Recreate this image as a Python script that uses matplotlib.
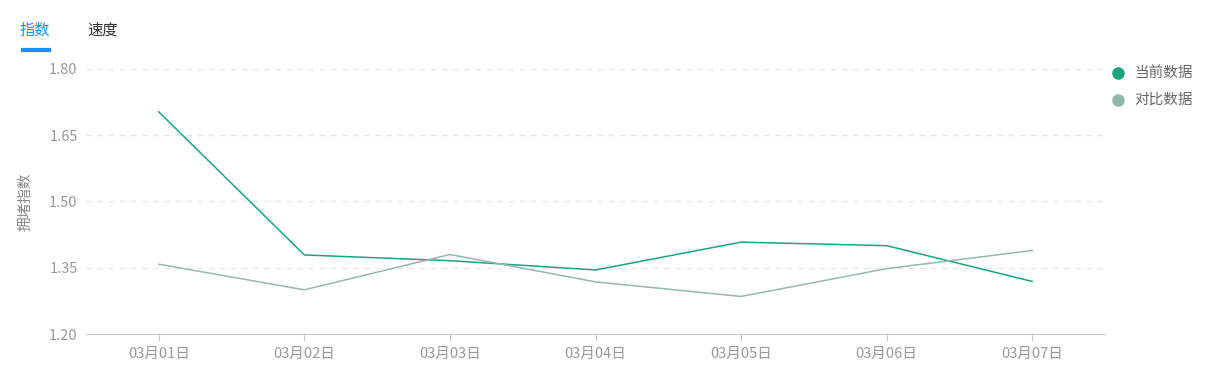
import matplotlib
matplotlib.use("Agg")
import matplotlib.pyplot as plt

plt.rcParams['font.family'] = ['Noto Sans CJK SC', 'DejaVu Sans']

# chart data
days = ['03月01日', '03月02日', '03月03日', '03月04日', '03月05日', '03月06日', '03月07日']
current = [1.703, 1.379, 1.366, 1.345, 1.408, 1.400, 1.319]
compare = [1.358, 1.300, 1.380, 1.318, 1.285, 1.348, 1.389]
y_ticks = [1.20, 1.35, 1.50, 1.65, 1.80]
tabs = ['指数', '速度']
series_names = ['当前数据', '对比数据']

c_cur = '#1ba27e'
c_cmp = '#94b8ac'

fig = plt.figure(figsize=(12.13, 3.81), dpi=100)
ax = fig.add_axes([86 / 1213, 47 / 381, 1019 / 1213, 265 / 381])

x = range(len(days))
ax.plot(x, current, color=c_cur, lw=1.1, label=series_names[0])
ax.plot(x, compare, color=c_cmp, lw=1.1, label=series_names[1])

ax.set_xlim(-0.5, len(days) - 0.5)
ax.set_ylim(1.20, 1.80)
ax.set_yticks(y_ticks)
ax.set_yticklabels(['%.2f' % v for v in y_ticks])
ax.set_xticks(list(x))
ax.set_xticklabels(days)

for v in y_ticks[1:]:
    ax.axhline(v, color='#e6e6e6', lw=1, ls=(0, (4, 4)), zorder=0)

for s in ['top', 'right', 'left']:
    ax.spines[s].set_visible(False)
ax.spines['bottom'].set_color('#c8c8c8')
ax.tick_params(axis='y', length=0, pad=6, labelsize=10.5, labelcolor='#999999')
ax.tick_params(axis='x', length=5, color='#c8c8c8', pad=4, labelsize=10.5, labelcolor='#999999')

ax.set_ylabel('拥堵指数', fontsize=10.5, color='#888888', labelpad=12)

# tabs on top
fig.text(20 / 1213, 1 - 30 / 381, tabs[0], fontsize=11, color='#1890ff', va='center', ha='left')
fig.text(87 / 1213, 1 - 30 / 381, tabs[1], fontsize=11, color='#333333', va='center', ha='left')
fig.add_artist(plt.Line2D([21 / 1213, 51 / 1213], [1 - 50 / 381, 1 - 50 / 381],
                          color='#1890ff', lw=3, solid_capstyle='butt',
                          transform=fig.transFigure))

# legend on right
for i, (name, c) in enumerate(zip(series_names, [c_cur, c_cmp])):
    yy = 1 - (73 + i * 27) / 381
    fig.add_artist(plt.Line2D([1118 / 1213], [yy], marker='o', ms=8, color=c, ls='none',
                              transform=fig.transFigure))
    fig.text(1134 / 1213, yy, name, fontsize=10.5, color='#666666', va='center', ha='left')

fig.savefig('out.png', dpi=100)
